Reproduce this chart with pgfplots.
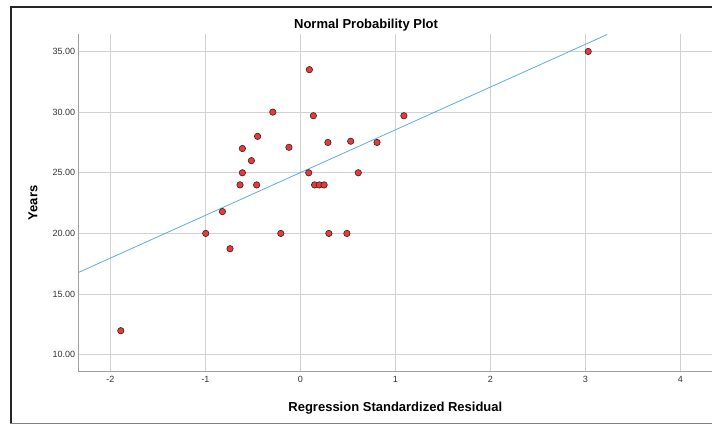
\documentclass[border=0pt]{standalone}
\usepackage{fontspec}
\setmainfont{Liberation Sans}
\usepackage{pgfplots}
\pgfplotsset{compat=1.18}

\definecolor{gridgray}{RGB}{210,210,210}
\definecolor{axisgray}{RGB}{160,160,160}
\definecolor{ptred}{RGB}{232,58,58}
\definecolor{ptedge}{RGB}{60,30,30}
\definecolor{fitblue}{RGB}{95,170,230}

\begin{document}
\begin{tikzpicture}
\useasboundingbox (0,0) rectangle (712pt,425pt);
\begin{axis}[
    at={(78.7pt,53.3pt)}, anchor=south west,
    scale only axis,
    width=633.3pt, height=337.7pt,
    xmin=-2.333, xmax=4.333,
    ymin=8.6, ymax=36.44,
    xtick={-2,-1,0,1,2,3,4},
    ytick={10,15,20,25,30,35},
    axis x line*=bottom, axis y line*=left,
    axis line style={draw=axisgray, line width=0.9pt, -},
    major tick length=0pt,
    grid=major,
    major grid style={gridgray, line width=0.8pt},
    /pgf/number format/assume math mode=true,
    yticklabel style={/pgf/number format/.cd, fixed, fixed zerofill, precision=2},
    ticklabel style={font=\fontsize{9}{10}\selectfont, text=black!80},
    xticklabel style={yshift=-1pt},
    title={Normal Probability Plot},
    title style={font=\fontsize{13}{15}\selectfont\bfseries, at={(axis description cs:0.4537,1.0246)}, anchor=center, yshift=-5pt},
    xlabel={Regression Standardized Residual},
    xlabel style={font=\fontsize{13}{15}\selectfont\bfseries, at={(axis description cs:0.5,-0.1016)}, anchor=center, yshift=-2pt},
    ylabel={Years},
    ylabel style={font=\fontsize{13}{15}\selectfont\bfseries, at={(axis description cs:-0.0722,0.5)}, anchor=center},
]
% fit line
\addplot [fitblue, line width=0.8pt, no markers] coordinates {(-2.333,16.79) (3.23,36.4)};
% observations
\addplot [only marks, mark=*, mark size=3.2pt,
          mark options={fill=ptred, draw=ptedge, line width=0.6pt}] coordinates {
    (0.095,33.5) (-0.29,30.0) (0.137,29.7) (-0.45,28.0) (-0.61,27.0)
    (-0.12,27.1) (0.29,27.5) (0.53,27.6) (-0.515,26.0)
    (-0.61,25.0) (0.088,25.0) (0.61,25.0)
    (-0.635,24.0) (-0.46,24.0) (0.15,24.0) (0.20,24.0) (0.25,24.0)
    (-0.82,21.8) (3.03,35.0) (1.09,29.7) (0.807,27.5)
    (-0.996,20.0) (-0.206,20.0) (0.30,20.0) (0.49,20.0)
    (-0.74,18.74) (-1.89,11.98)
};
\end{axis}
% outer chart frame
\draw [black!85, line width=2pt] (11pt,1.5pt) -- (11pt,418pt) -- (714pt,418pt);
\draw [black!50, line width=1pt] (10pt,1.5pt) -- (714pt,1.5pt);
\end{tikzpicture}
\end{document}
